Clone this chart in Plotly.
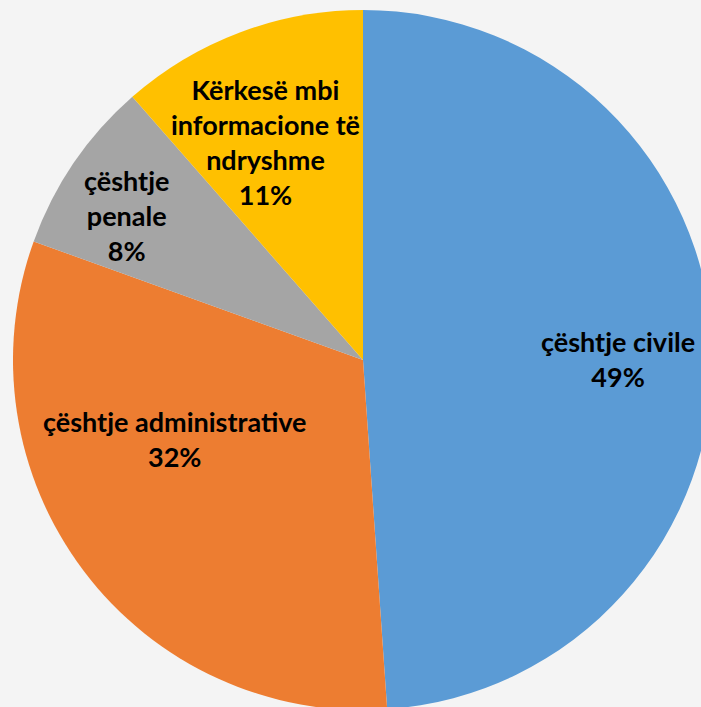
import plotly.graph_objects as go

labels = ["çështje civile", "çështje administrative", "çështje penale",
          "Kërkesë mbi informacione të ndryshme"]
text_labels = ["çështje civile", "çështje administrative", "çështje<br>penale",
               "Kërkesë mbi<br>informacione të<br>ndryshme"]
values = [48.9, 31.6, 8.05, 11.45]
colors = ["#5B9BD5", "#ED7D31", "#A5A5A5", "#FFC000"]

W, H = 713, 710
# label centres in pixels (Excel-like placement)
label_pos = [(618, 359), (175, 439), (126, 215), (265, 142)]

fig = go.Figure()
fig.add_trace(go.Pie(
    labels=labels,
    values=values,
    textinfo="none",
    marker=dict(colors=colors, line=dict(width=0)),
    sort=False,
    direction="clockwise",
    rotation=0,
    showlegend=False,
    hoverinfo="label+percent",
    domain=dict(x=[13 / W, 1], y=[0, 700 / H]),
))

total = sum(values)
for txt, v, (px, py) in zip(text_labels, values, label_pos):
    fig.add_annotation(
        x=px / W, y=1 - py / H, xref="paper", yref="paper",
        xanchor="center", yanchor="middle",
        text=f"<b>{txt}<br>{round(v / total * 100)}%</b>",
        showarrow=False,
        font=dict(family="Lato", size=27, color="black"),
        align="center",
    )

fig.update_layout(
    width=W,
    height=H,
    margin=dict(l=0, r=0, t=0, b=0),
    paper_bgcolor="#f4f4f4",
)

fig.write_html(
    "out.html",
    config={"displayModeBar": False},
    post_script="document.body.style.margin='0';"
                "document.body.style.overflow='hidden';"
                "document.body.style.background='#f4f4f4';",
)
